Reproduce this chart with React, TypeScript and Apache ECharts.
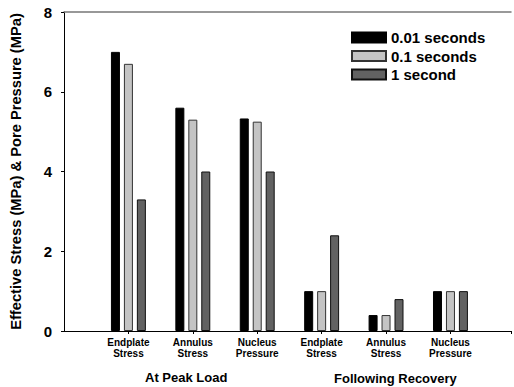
import React, { useEffect, useRef } from "react";
import * as echarts from "echarts";

const categories = ["Endplate\nStress", "Annulus\nStress", "Nucleus\nPressure", "Endplate\nStress", "Annulus\nStress", "Nucleus\nPressure"];
const seriesNames = ["0.01 seconds", "0.1 seconds", "1 second"];
const s001 = [7.0, 5.6, 5.33, 1.0, 0.4, 1.0];
const s01 = [6.7, 5.3, 5.25, 1.0, 0.4, 1.0];
const s1 = [3.3, 4.0, 4.0, 2.4, 0.8, 1.0];
const groupLabels = ["At Peak Load", "Following Recovery"];
const yTicks = [0, 2, 4, 6, 8];

const FONT = "Liberation Sans, Arial, sans-serif";

export default function App() {
  const ref = useRef<HTMLDivElement>(null);
  useEffect(() => {
    const chart = echarts.init(ref.current!, undefined, { renderer: "svg" });
    const toData = (arr: number[]) => arr.map((v, i) => [i + 1, v]);
    const colors = ["#000000", "#c4c4c4", "#626262"];
    const borders = ["#000000", "#333333", "#111111"];
    const all = [s001, s01, s1];
    chart.setOption({
      animation: false,
      grid: { left: 60, right: 1, top: 12, bottom: 56 },
      legend: {
        orient: "vertical",
        left: 346,
        top: 25,
        itemWidth: 34,
        itemHeight: 10,
        itemGap: 3.5,
        icon: "rect",
        data: seriesNames,
        textStyle: { fontFamily: FONT, fontWeight: "bold", fontSize: 15, color: "#000" },
      },
      xAxis: [
        {
          type: "value",
          min: 0,
          max: 6.94,
          interval: 1,
          splitLine: { show: false },
          axisLine: { lineStyle: { color: "#000", width: 1 } },
          axisTick: { show: true, length: 3, lineStyle: { color: "#000" } },
          axisLabel: {
            margin: 6,
            fontFamily: FONT,
            fontWeight: "bold",
            fontSize: 10,
            lineHeight: 11,
            color: "#000",
            showMinLabel: false,
            formatter: (v: number) => (v >= 1 && v <= 6 ? categories[v - 1] : ""),
          },
        },
        {
          type: "value",
          position: "top",
          min: 0,
          max: 6.94,
          axisLine: { lineStyle: { color: "#777", width: 1.5 } },
          axisTick: { show: false },
          axisLabel: { show: false },
          splitLine: { show: false },
        },
      ],
      yAxis: {
        type: "value",
        min: yTicks[0],
        max: yTicks[yTicks.length - 1],
        interval: 2,
        name: "Effective Stress (MPa) & Pore Pressure (MPa)",
        nameLocation: "middle",
        nameGap: 41,
        nameTextStyle: { fontFamily: FONT, fontWeight: "bold", fontSize: 14.7, color: "#000" },
        splitLine: { show: false },
        axisLine: { show: true, lineStyle: { color: "#000", width: 1 } },
        axisTick: { show: true, length: 3, lineStyle: { color: "#000" } },
        axisLabel: { margin: 12, fontFamily: FONT, fontWeight: "bold", fontSize: 15, color: "#000" },
      },
      series: seriesNames.map((name, k) => ({
        name,
        type: "bar",
        xAxisIndex: 0,
        barWidth: 9,
        barGap: "44%",
        data: toData(all[k]),
        itemStyle: { color: colors[k], borderColor: borders[k], borderWidth: 1 },
      })),
      graphic: [
        {
          type: "text",
          left: 145,
          top: 371,
          style: { text: groupLabels[0], fontFamily: FONT, fontWeight: "bold", fontSize: 13, fill: "#000" },
        },
        {
          type: "text",
          left: 334,
          top: 372,
          style: { text: groupLabels[1], fontFamily: FONT, fontWeight: "bold", fontSize: 13, fill: "#000" },
        },
      ],
    });
    return () => chart.dispose();
  }, []);
  return <div ref={ref} style={{ position: "fixed", left: 0, top: 0, width: 514, height: 387, background: "#fff" }} />;
}
